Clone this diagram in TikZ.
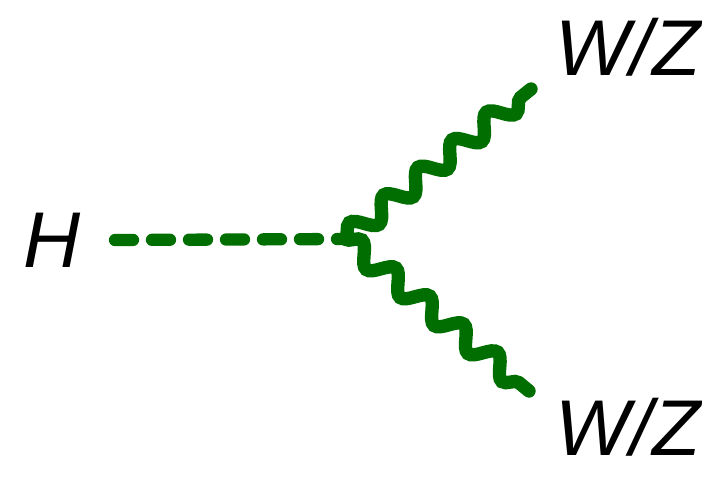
\documentclass[tikz,border=0pt]{standalone}
\usepackage{fontspec}
\setmainfont{Liberation Sans}
\usetikzlibrary{positioning, decorations.pathmorphing}
\definecolor{bosongreen}{RGB}{0,110,0}

\begin{document}
\begin{tikzpicture}[
    label/.style={font=\itshape\fontsize{45}{50}\selectfont, text=black},
    higgs/.style={draw=bosongreen, line width=7pt, line cap=round, dash pattern=on 0.36cm off 0.38cm},
    boson/.style={draw=bosongreen, line width=7.6pt, line cap=round, decorate,
        decoration={snake, segment length=0.88cm, amplitude=0.2cm}}
]
\useasboundingbox (0,0) rectangle (14.04,-9.70);

% Vertex and line ends
\coordinate (vtx) at (6.90,-4.78);
\coordinate (hstart) at (2.30,-4.80);
\coordinate (wtop) at (10.62,-1.78);
\coordinate (wbot) at (10.58,-7.82);

% Labels
\node[label] (hlab) at (1.04,-4.80) {H};
\node[label] (wzt) at (12.56,-0.95) {W/Z};
\node[label] (wzb) at (12.56,-8.55) {W/Z};

% Propagators
\draw[higgs] (hstart) -- (vtx);
\draw[boson] (vtx) -- (wtop);
\draw[boson] (vtx) -- (wbot);

\end{tikzpicture}
\end{document}
